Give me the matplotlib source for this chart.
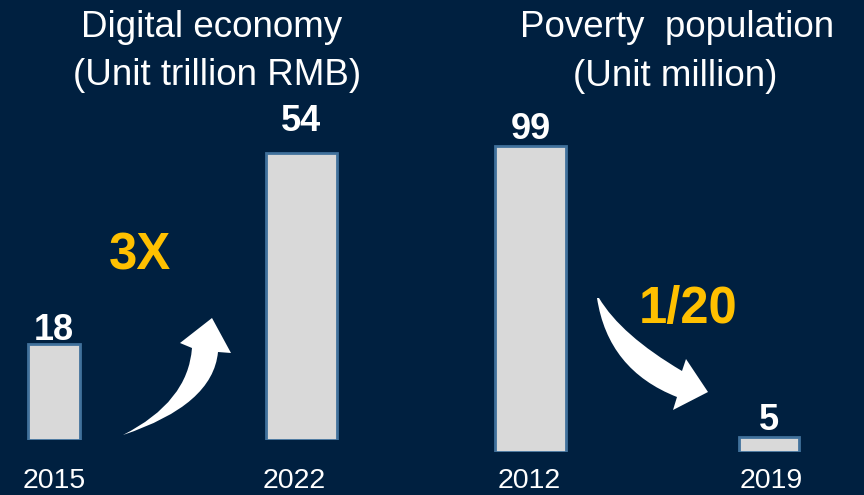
import numpy as np
import matplotlib
matplotlib.use('Agg')
import matplotlib.pyplot as plt
from matplotlib.path import Path
from matplotlib.patches import PathPatch
from matplotlib.transforms import Affine2D

#Data
econ_years = ['2015', '2022']
econ_values = [18, 54]
econ_title = ['Digital economy', '(Unit trillion RMB)']
econ_ratio = '3X'

pov_years = ['2012', '2019']
pov_values = [99, 5]
pov_title = ['Poverty  population', '(Unit million)']
pov_ratio = '1/20'

#Style
BG = '#002040'
BAR = '#d9d9d9'
EDGE = '#41719c'
GOLD = '#ffc000'
W, H = 864, 495
plt.rcParams['font.family'] = ['Liberation Sans', 'DejaVu Sans']

fig = plt.figure(figsize=(W / 100, H / 100), dpi=100, facecolor=BG)
#pixel coordinates, y pointing down
px = Affine2D().scale(1 / W, -1 / H).translate(0, 1) + fig.transFigure


def panel(left, bottom_px, px_per_unit, centers, widths, years, values,
          val_gap, year_gap, year_dx):
    '''One bar panel. centers/widths are in pixels of the panel.'''
    ax = fig.add_axes([left, (H - bottom_px) / H, 0.5, bottom_px / H])
    ax.set_facecolor(BG)
    ax.axis('off')
    step = centers[1] - centers[0]
    ax.set_xlim(-centers[0] / step, (W / 2 - centers[0]) / step)
    ax.set_ylim(0, bottom_px / px_per_unit)
    xs = np.arange(len(values))
    ax.bar(xs, values, width=[w / step for w in widths], color=BAR,
           edgecolor=EDGE, linewidth=2)
    for i, v in enumerate(values):
        ax.annotate(str(v), xy=(i, v), xytext=(0, val_gap[i] * 0.72),
                    textcoords='offset points', ha='center', va='baseline',
                    fontsize=26, fontweight='bold', color='white',
                    annotation_clip=False)
        ax.annotate(years[i], xy=(i, 0), xytext=(year_dx[i] * 0.72, -year_gap[i] * 0.72),
                    textcoords='offset points', ha='center', va='baseline',
                    fontsize=20.5, color='white', annotation_clip=False)
    return ax


panel(0.0, 440, 287 / 54, (54, 301.5), (52, 71), econ_years, econ_values,
      (4, 22), (48, 48), (0, -7))
panel(0.5, 452, 306 / 99, (98.5, 337), (71, 60), pov_years, pov_values,
      (7, 7), (36, 36), (-1, 2))

#Titles
for (x, y), s in zip([(212, 37), (217.5, 85)], econ_title):
    fig.text(x, y, s, transform=px, ha='center', va='baseline', fontsize=26.5, color='white')
for (x, y), s in zip([(677.5, 37), (675, 86)], pov_title):
    fig.text(x, y, s, transform=px, ha='center', va='baseline', fontsize=26.5, color='white')

fig.text(140, 269, econ_ratio, transform=px, ha='center', va='baseline',
         fontsize=36.5, fontweight='bold', color=GOLD)
fig.text(688, 323, pov_ratio, transform=px, ha='center', va='baseline',
         fontsize=36.5, fontweight='bold', color=GOLD)

#Curved block arrows
M, C, L, Z = Path.MOVETO, Path.CURVE3, Path.LINETO, Path.CLOSEPOLY
up_arrow = Path(
    [(123, 435), (188, 402), (192, 348), (180, 343), (212, 318), (231, 353),
     (218, 352), (213, 405), (123, 435), (123, 435)],
    [M, C, C, L, L, L, L, C, C, Z])
down_arrow = Path(
    [(597, 298), (608, 370), (677, 397), (673, 410), (708, 392), (686, 359),
     (682, 371), (621, 335), (599, 298), (597, 298)],
    [M, C, C, L, L, L, L, C, C, Z])
for p in (up_arrow, down_arrow):
    fig.add_artist(PathPatch(p, transform=px, facecolor='white', edgecolor='none'))

fig.savefig('out.png', dpi=100, facecolor=BG)
